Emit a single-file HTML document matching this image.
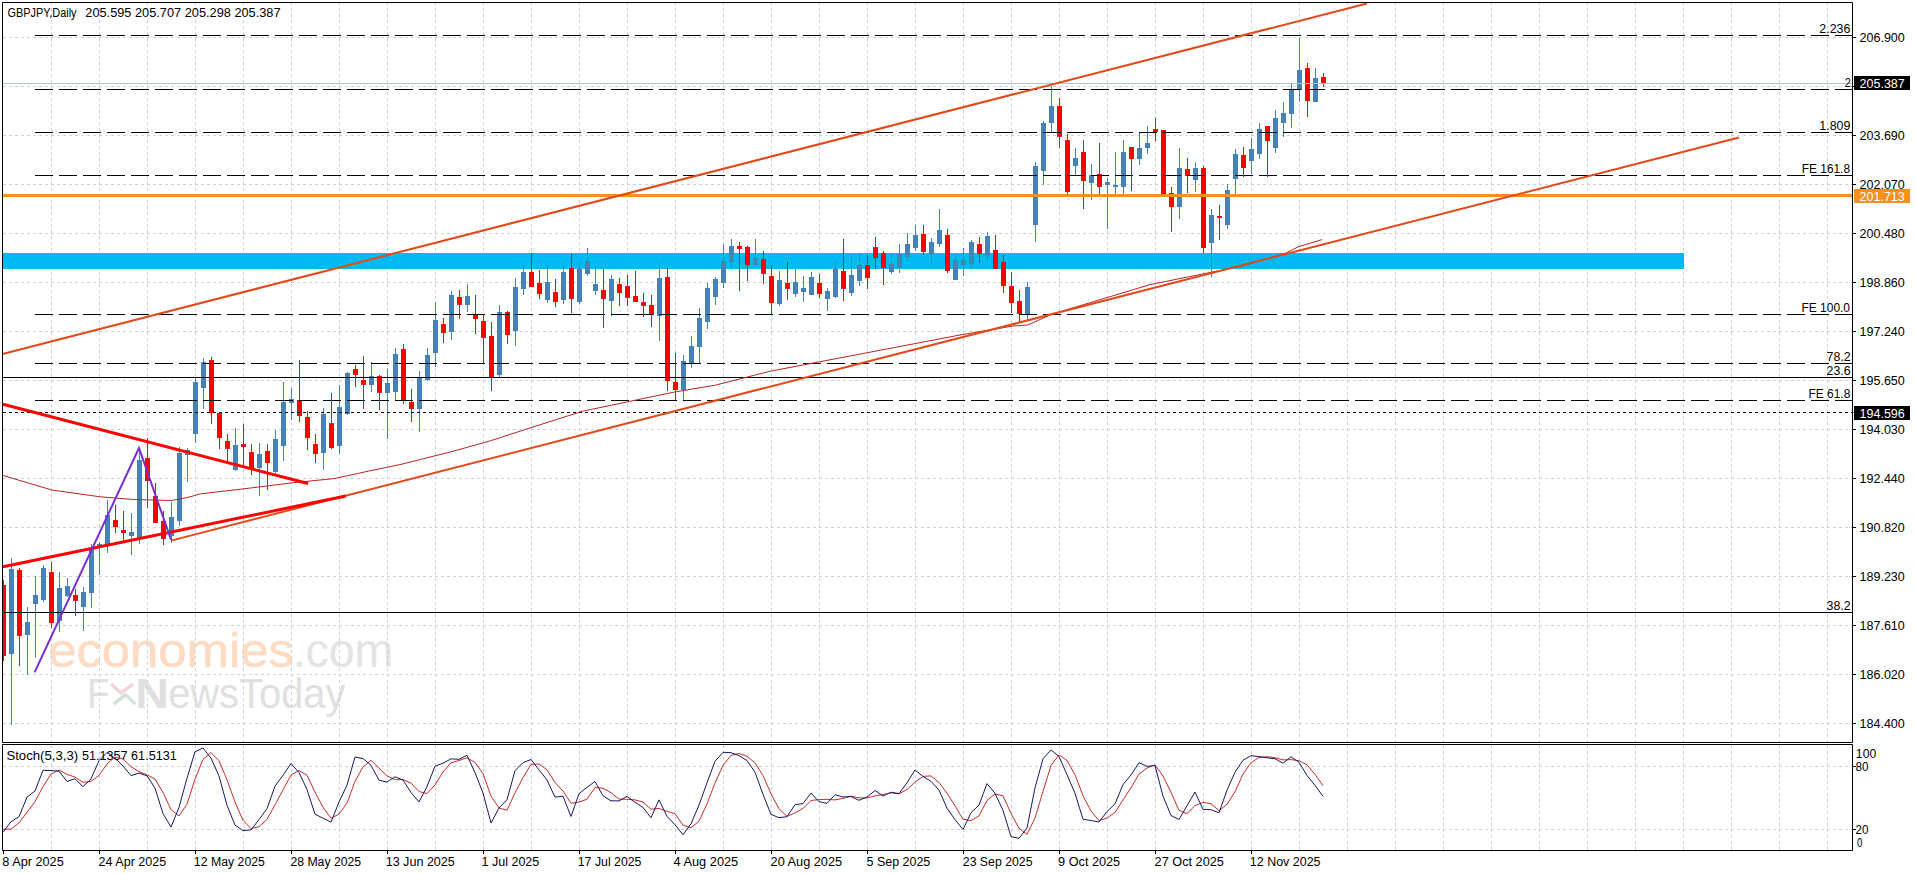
<!DOCTYPE html><html><head><meta charset="utf-8"><style>html,body{margin:0;padding:0;background:#fff;width:1916px;height:874px;overflow:hidden;position:relative}</style></head><body><svg width="1916" height="874" viewBox="0 0 1916 874" style="position:absolute;left:0;top:0">
<rect x="0" y="0" width="1916" height="874" fill="#fff"/>
<text x="48.18" y="667" font-family="Liberation Sans" font-size="48" font-weight="normal" fill="#fddcc3" textLength="245.71" lengthAdjust="spacingAndGlyphs" xml:space="preserve" stroke="#fddcc3" stroke-width="0.6">economies</text>
<text x="292.63" y="667" font-family="Liberation Sans" font-size="48" font-weight="normal" fill="#e4e4e4" textLength="100.69" lengthAdjust="spacingAndGlyphs" xml:space="preserve" >.com</text>
<text x="87.18" y="707.5" font-family="Liberation Sans" font-size="43" font-weight="normal" fill="#e0e0e0" textLength="22.10" lengthAdjust="spacingAndGlyphs" xml:space="preserve" >F</text>
<path d="M111 684 L121 693 L133 684" stroke="#f0d4d8" stroke-width="3.5" fill="none"/>
<path d="M113.6 704 L125.7 694.7 L135.4 704" stroke="#d2e4d8" stroke-width="3.5" fill="none"/>
<text x="135.15" y="707.5" font-family="Liberation Sans" font-size="43" font-weight="bold" fill="#e0e0e0" textLength="33.69" lengthAdjust="spacingAndGlyphs" xml:space="preserve" >N</text>
<text x="168.14" y="707.5" font-family="Liberation Sans" font-size="43" font-weight="normal" fill="#e0e0e0" textLength="177.36" lengthAdjust="spacingAndGlyphs" xml:space="preserve" >ewsToday</text>
<path d="M51.5 2V742 M51.5 745V850 M99.5 2V742 M99.5 745V850 M147.5 2V742 M147.5 745V850 M195.5 2V742 M195.5 745V850 M243.5 2V742 M243.5 745V850 M291.5 2V742 M291.5 745V850 M339.5 2V742 M339.5 745V850 M387.5 2V742 M387.5 745V850 M435.5 2V742 M435.5 745V850 M483.5 2V742 M483.5 745V850 M531.5 2V742 M531.5 745V850 M579.5 2V742 M579.5 745V850 M627.5 2V742 M627.5 745V850 M675.5 2V742 M675.5 745V850 M723.5 2V742 M723.5 745V850 M771.5 2V742 M771.5 745V850 M819.5 2V742 M819.5 745V850 M867.5 2V742 M867.5 745V850 M915.5 2V742 M915.5 745V850 M963.5 2V742 M963.5 745V850 M1011.5 2V742 M1011.5 745V850 M1059.5 2V742 M1059.5 745V850 M1107.5 2V742 M1107.5 745V850 M1155.5 2V742 M1155.5 745V850 M1203.5 2V742 M1203.5 745V850 M1251.5 2V742 M1251.5 745V850 M1299.5 2V742 M1299.5 745V850 M1347.5 2V742 M1347.5 745V850 M1395.5 2V742 M1395.5 745V850 M1443.5 2V742 M1443.5 745V850 M1491.5 2V742 M1491.5 745V850 M1539.5 2V742 M1539.5 745V850 M1587.5 2V742 M1587.5 745V850 M1635.5 2V742 M1635.5 745V850 M1683.5 2V742 M1683.5 745V850 M1731.5 2V742 M1731.5 745V850 M1779.5 2V742 M1779.5 745V850 M1827.5 2V742 M1827.5 745V850 M3 37.5H1852 M3 86.5H1852 M3 135.5H1852 M3 184.5H1852 M3 233.5H1852 M3 282.5H1852 M3 331.5H1852 M3 380.5H1852 M3 429.5H1852 M3 478.5H1852 M3 527.5H1852 M3 576.5H1852 M3 625.5H1852 M3 674.5H1852 M3 723.5H1852 M3 766.5H1852 M3 829.5H1852" stroke="#c9d3d8" stroke-width="1" stroke-dasharray="3 3" fill="none"/>
<rect x="3" y="253" width="1681" height="16" fill="#02baf3"/>
<path d="M11 558h1V725h-1Z M9 569h5V654h-5Z M27 607h1V675h-1Z M25 622h5V635h-5Z M35 576h1V658h-1Z M33 595h5V604h-5Z M43 565h1V602h-1Z M41 568h5V600h-5Z M59 572h1V632h-1Z M57 588h5V621h-5Z M67 578h1V597h-1Z M65 586h5V596h-5Z M83 587h1V631h-1Z M81 592h5V607h-5Z M91 544h1V608h-1Z M89 548h5V593h-5Z M99 542h1V575h-1Z M97 544h5V548h-5Z M107 500h1V553h-1Z M105 515h5V545h-5Z M131 513h1V555h-1Z M129 532h5V536h-5Z M139 448h1V544h-1Z M137 460h5V538h-5Z M171 502h1V543h-1Z M169 517h5V536h-5Z M179 447h1V526h-1Z M177 453h5V521h-5Z M187 448h1V482h-1Z M185 450h5V455h-5Z M195 377h1V443h-1Z M193 382h5V434h-5Z M203 358h1V409h-1Z M201 362h5V388h-5Z M235 428h1V471h-1Z M233 445h5V470h-5Z M259 443h1V496h-1Z M257 454h5V468h-5Z M275 430h1V473h-1Z M273 439h5V472h-5Z M283 382h1V461h-1Z M281 402h5V446h-5Z M291 388h1V420h-1Z M289 399h5V403h-5Z M323 408h1V470h-1Z M321 414h5V453h-5Z M339 385h1V454h-1Z M337 407h5V446h-5Z M347 372h1V415h-1Z M345 373h5V414h-5Z M371 362h1V392h-1Z M369 376h5V385h-5Z M387 369h1V439h-1Z M385 383h5V393h-5Z M395 348h1V401h-1Z M393 354h5V392h-5Z M419 371h1V432h-1Z M417 377h5V409h-5Z M427 348h1V381h-1Z M425 355h5V380h-5Z M435 302h1V367h-1Z M433 320h5V353h-5Z M451 291h1V340h-1Z M449 295h5V332h-5Z M467 284h1V312h-1Z M465 296h5V305h-5Z M499 305h1V378h-1Z M497 312h5V375h-5Z M515 278h1V346h-1Z M513 287h5V331h-5Z M523 265h1V295h-1Z M521 272h5V289h-5Z M547 265h1V303h-1Z M545 282h5V300h-5Z M563 265h1V304h-1Z M561 272h5V300h-5Z M579 262h1V304h-1Z M577 269h5V302h-5Z M587 248h1V276h-1Z M585 261h5V274h-5Z M595 266h1V295h-1Z M593 284h5V291h-5Z M611 275h1V316h-1Z M609 279h5V301h-5Z M659 263h1V341h-1Z M657 278h5V316h-5Z M683 355h1V401h-1Z M681 361h5V390h-5Z M691 336h1V368h-1Z M689 346h5V364h-5Z M699 308h1V364h-1Z M697 318h5V347h-5Z M707 283h1V329h-1Z M705 288h5V322h-5Z M715 277h1V305h-1Z M713 279h5V297h-5Z M723 244h1V288h-1Z M721 261h5V283h-5Z M731 239h1V269h-1Z M729 246h5V262h-5Z M755 239h1V265h-1Z M753 258h5V265h-5Z M779 271h1V306h-1Z M777 280h5V304h-5Z M795 269h1V297h-1Z M793 282h5V294h-5Z M803 276h1V302h-1Z M801 288h5V292h-5Z M811 272h1V295h-1Z M809 277h5V295h-5Z M827 288h1V311h-1Z M825 291h5V299h-5Z M835 262h1V298h-1Z M833 269h5V297h-5Z M851 256h1V296h-1Z M849 275h5V293h-5Z M859 254h1V286h-1Z M857 265h5V281h-5Z M891 254h1V274h-1Z M889 264h5V272h-5Z M899 244h1V273h-1Z M897 254h5V268h-5Z M907 233h1V261h-1Z M905 244h5V257h-5Z M915 225h1V251h-1Z M913 235h5V248h-5Z M931 238h1V265h-1Z M929 242h5V254h-5Z M939 209h1V247h-1Z M937 230h5V244h-5Z M955 255h1V280h-1Z M953 260h5V280h-5Z M963 248h1V276h-1Z M961 260h5V265h-5Z M971 240h1V268h-1Z M969 242h5V264h-5Z M987 232h1V261h-1Z M985 236h5V256h-5Z M1027 282h1V320h-1Z M1025 287h5V314h-5Z M1035 162h1V242h-1Z M1033 166h5V225h-5Z M1043 121h1V185h-1Z M1041 123h5V171h-5Z M1051 86h1V133h-1Z M1049 106h5V123h-5Z M1075 148h1V175h-1Z M1073 158h5V166h-5Z M1091 164h1V200h-1Z M1089 175h5V183h-5Z M1107 178h1V229h-1Z M1105 182h5V185h-5Z M1115 152h1V194h-1Z M1113 185h5V187h-5Z M1123 140h1V194h-1Z M1121 152h5V187h-5Z M1139 132h1V165h-1Z M1137 148h5V159h-5Z M1147 126h1V154h-1Z M1145 143h5V148h-5Z M1179 148h1V219h-1Z M1177 168h5V207h-5Z M1195 162h1V192h-1Z M1193 168h5V180h-5Z M1211 209h1V277h-1Z M1209 215h5V243h-5Z M1227 184h1V229h-1Z M1225 190h5V225h-5Z M1235 149h1V195h-1Z M1233 154h5V179h-5Z M1251 138h1V174h-1Z M1249 149h5V161h-5Z M1259 123h1V159h-1Z M1257 129h5V154h-5Z M1275 110h1V153h-1Z M1273 118h5V148h-5Z M1283 102h1V137h-1Z M1281 113h5V123h-5Z M1291 84h1V128h-1Z M1289 90h5V114h-5Z M1299 38h1V102h-1Z M1297 70h5V90h-5Z M1315 68h1V102h-1Z M1313 78h5V102h-5Z" fill="#4682b4" shape-rendering="crispEdges"/>
<path d="M3 580h1V661h-1Z M1 585h5V656h-5Z M19 568h1V666h-1Z M17 570h5V636h-5Z M51 562h1V628h-1Z M49 572h5V623h-5Z M75 589h1V616h-1Z M73 595h5V601h-5Z M115 505h1V533h-1Z M113 520h5V527h-5Z M123 511h1V543h-1Z M121 530h5V533h-5Z M147 438h1V508h-1Z M145 458h5V481h-5Z M155 483h1V523h-1Z M153 496h5V523h-5Z M163 511h1V545h-1Z M161 521h5V539h-5Z M211 357h1V424h-1Z M209 360h5V413h-5Z M219 412h1V449h-1Z M217 413h5V438h-5Z M227 434h1V462h-1Z M225 441h5V449h-5Z M243 424h1V465h-1Z M241 444h5V447h-5Z M251 444h1V475h-1Z M249 452h5V468h-5Z M267 444h1V490h-1Z M265 451h5V463h-5Z M299 360h1V422h-1Z M297 400h5V416h-5Z M307 411h1V450h-1Z M305 417h5V438h-5Z M315 434h1V463h-1Z M313 444h5V454h-5Z M331 393h1V449h-1Z M329 423h5V448h-5Z M355 365h1V387h-1Z M353 369h5V375h-5Z M363 356h1V409h-1Z M361 380h5V385h-5Z M379 375h1V410h-1Z M377 376h5V393h-5Z M403 344h1V404h-1Z M401 349h5V400h-5Z M411 389h1V422h-1Z M409 402h5V409h-5Z M443 318h1V343h-1Z M441 324h5V333h-5Z M459 290h1V319h-1Z M457 297h5V305h-5Z M475 295h1V334h-1Z M473 314h5V319h-5Z M483 315h1V363h-1Z M481 321h5V338h-5Z M491 322h1V391h-1Z M489 336h5V377h-5Z M507 311h1V344h-1Z M505 312h5V335h-5Z M531 253h1V287h-1Z M529 272h5V287h-5Z M539 270h1V299h-1Z M537 283h5V294h-5Z M555 279h1V307h-1Z M553 292h5V302h-5Z M571 254h1V313h-1Z M569 268h5V299h-5Z M603 269h1V328h-1Z M601 290h5V299h-5Z M619 278h1V306h-1Z M617 284h5V293h-5Z M627 275h1V306h-1Z M625 286h5V298h-5Z M635 271h1V302h-1Z M633 296h5V302h-5Z M643 293h1V317h-1Z M641 302h5V306h-5Z M651 295h1V327h-1Z M649 305h5V315h-5Z M667 268h1V391h-1Z M665 277h5V381h-5Z M675 353h1V401h-1Z M673 382h5V390h-5Z M739 242h1V291h-1Z M737 246h5V249h-5Z M747 246h1V281h-1Z M745 247h5V265h-5Z M763 251h1V284h-1Z M761 259h5V274h-5Z M771 265h1V315h-1Z M769 276h5V303h-5Z M787 262h1V300h-1Z M785 283h5V289h-5Z M819 274h1V298h-1Z M817 283h5V294h-5Z M843 239h1V301h-1Z M841 271h5V289h-5Z M867 255h1V289h-1Z M865 265h5V278h-5Z M875 237h1V269h-1Z M873 247h5V258h-5Z M883 251h1V285h-1Z M881 253h5V268h-5Z M923 225h1V255h-1Z M921 234h5V252h-5Z M947 229h1V273h-1Z M945 235h5V271h-5Z M979 237h1V263h-1Z M977 244h5V254h-5Z M995 235h1V269h-1Z M993 250h5V269h-5Z M1003 255h1V293h-1Z M1001 262h5V286h-5Z M1011 272h1V313h-1Z M1009 286h5V303h-5Z M1019 290h1V323h-1Z M1017 301h5V314h-5Z M1059 98h1V148h-1Z M1057 106h5V137h-5Z M1067 134h1V194h-1Z M1065 140h5V192h-5Z M1083 140h1V209h-1Z M1081 152h5V181h-5Z M1099 143h1V194h-1Z M1097 174h5V187h-5Z M1131 147h1V191h-1Z M1129 147h5V159h-5Z M1155 118h1V141h-1Z M1153 129h5V132h-5Z M1163 130h1V195h-1Z M1161 130h5V194h-5Z M1171 187h1V232h-1Z M1169 193h5V207h-5Z M1187 158h1V193h-1Z M1185 169h5V176h-5Z M1203 166h1V253h-1Z M1201 168h5V248h-5Z M1219 205h1V240h-1Z M1217 216h5V218h-5Z M1243 147h1V177h-1Z M1241 155h5V168h-5Z M1267 126h1V177h-1Z M1265 126h5V141h-5Z M1307 63h1V117h-1Z M1305 68h5V101h-5Z M1323 73h1V87h-1Z M1321 77h5V84h-5Z" fill="#ff0000" shape-rendering="crispEdges"/>
<path d="M35 35.5H1852 M35 89.5H1852 M35 132.5H1852 M35 175.5H1852 M35 314.5H1852 M35 363.5H1852 M35 400.5H1852" stroke="#000" stroke-width="1" stroke-dasharray="18 6" fill="none"/>
<path d="M3 377.5H1852 M3 612.5H1852" stroke="#000" stroke-width="1" fill="none"/>
<path d="M3 412.5H1852" stroke="#000" stroke-width="1" stroke-dasharray="3 3" fill="none"/>
<path d="M3 83.5H1852" stroke="#a8c8d8" stroke-width="1" fill="none"/>
<rect x="3" y="194" width="1849" height="3" fill="#f7901c"/>
<polyline points="3.1,475.5 52.2,490.1 100.2,496.8 133.6,499.5 171.2,500.5 187.9,497.4 200.4,493.9 250.5,488 292.3,482.8 334,478.6 368.7,471.1 400,464.6 453,451.25 490.4,440.8 532,427.3 582.5,411.25 672,392.5 716,385 770,371.25 960,335 1013,326 1027.7,325 1052,314.2 1150,284.6 1202.5,274 1244,265.6 1286,253 1298,246.9 1322,239.6" stroke="#b82424" stroke-width="1" fill="none"/>
<path d="M2.5 354 L1367 3.5 M171 540.6 L1739 137.5" stroke="#e4491a" stroke-width="2" fill="none"/>
<path d="M3 404.3 L308 483.5 M3 566.7 L346 496" stroke="#ff0000" stroke-width="3" fill="none"/>
<polyline points="34.6,672.3 139,448 171,539.6" stroke="#7a2ed6" stroke-width="2" fill="none"/>
<rect x="0" y="0" width="2" height="874" fill="#fff"/>
<rect x="1853" y="0" width="63" height="874" fill="#fff"/>
<rect x="0" y="0" width="1916" height="2" fill="#fff"/>
<rect x="0" y="743" width="1916" height="1" fill="#fff"/>
<path d="M2.5 2.5H1852.5V742.5H2.5Z M2.5 744.5H1852.5V850.5H2.5Z" stroke="#000" stroke-width="1" fill="none"/>
<path d="M1853 37.5h3 M1853 86.5h3 M1853 135.5h3 M1853 184.5h3 M1853 233.5h3 M1853 282.5h3 M1853 331.5h3 M1853 380.5h3 M1853 429.5h3 M1853 478.5h3 M1853 527.5h3 M1853 576.5h3 M1853 625.5h3 M1853 674.5h3 M1853 723.5h3 M1853 766.5h3 M1853 829.5h3 M3.5 851v3 M99.5 851v3 M195.5 851v3 M291.5 851v3 M387.5 851v3 M483.5 851v3 M579.5 851v3 M675.5 851v3 M771.5 851v3 M867.5 851v3 M963.5 851v3 M1059.5 851v3 M1155.5 851v3 M1251.5 851v3" stroke="#000" stroke-width="1" fill="none"/>
<text x="1859.50" y="42" font-family="Liberation Sans" font-size="12" font-weight="normal" fill="#000" textLength="45.31" lengthAdjust="spacingAndGlyphs" xml:space="preserve" >206.900</text>
<text x="1859.50" y="140" font-family="Liberation Sans" font-size="12" font-weight="normal" fill="#000" textLength="45.31" lengthAdjust="spacingAndGlyphs" xml:space="preserve" >203.690</text>
<text x="1859.50" y="189" font-family="Liberation Sans" font-size="12" font-weight="normal" fill="#000" textLength="45.31" lengthAdjust="spacingAndGlyphs" xml:space="preserve" >202.070</text>
<text x="1859.50" y="238" font-family="Liberation Sans" font-size="12" font-weight="normal" fill="#000" textLength="45.31" lengthAdjust="spacingAndGlyphs" xml:space="preserve" >200.480</text>
<text x="1859.50" y="287" font-family="Liberation Sans" font-size="12" font-weight="normal" fill="#000" textLength="45.31" lengthAdjust="spacingAndGlyphs" xml:space="preserve" >198.860</text>
<text x="1859.50" y="336" font-family="Liberation Sans" font-size="12" font-weight="normal" fill="#000" textLength="45.31" lengthAdjust="spacingAndGlyphs" xml:space="preserve" >197.240</text>
<text x="1859.50" y="385" font-family="Liberation Sans" font-size="12" font-weight="normal" fill="#000" textLength="45.31" lengthAdjust="spacingAndGlyphs" xml:space="preserve" >195.650</text>
<text x="1859.50" y="434" font-family="Liberation Sans" font-size="12" font-weight="normal" fill="#000" textLength="45.31" lengthAdjust="spacingAndGlyphs" xml:space="preserve" >194.030</text>
<text x="1859.50" y="483" font-family="Liberation Sans" font-size="12" font-weight="normal" fill="#000" textLength="45.31" lengthAdjust="spacingAndGlyphs" xml:space="preserve" >192.440</text>
<text x="1859.50" y="532" font-family="Liberation Sans" font-size="12" font-weight="normal" fill="#000" textLength="45.31" lengthAdjust="spacingAndGlyphs" xml:space="preserve" >190.820</text>
<text x="1859.50" y="581" font-family="Liberation Sans" font-size="12" font-weight="normal" fill="#000" textLength="45.31" lengthAdjust="spacingAndGlyphs" xml:space="preserve" >189.230</text>
<text x="1859.50" y="630" font-family="Liberation Sans" font-size="12" font-weight="normal" fill="#000" textLength="45.31" lengthAdjust="spacingAndGlyphs" xml:space="preserve" >187.610</text>
<text x="1859.50" y="679" font-family="Liberation Sans" font-size="12" font-weight="normal" fill="#000" textLength="45.31" lengthAdjust="spacingAndGlyphs" xml:space="preserve" >186.020</text>
<text x="1859.50" y="728" font-family="Liberation Sans" font-size="12" font-weight="normal" fill="#000" textLength="45.31" lengthAdjust="spacingAndGlyphs" xml:space="preserve" >184.400</text>
<rect x="1854" y="76" width="56" height="14" fill="#000"/>
<text x="1859.50" y="88" font-family="Liberation Sans" font-size="12" font-weight="normal" fill="#fff" textLength="45.31" lengthAdjust="spacingAndGlyphs" xml:space="preserve" >205.387</text>
<rect x="1854" y="189" width="56" height="14" fill="#f7901c"/>
<text x="1859.50" y="201" font-family="Liberation Sans" font-size="12" font-weight="normal" fill="#fff" textLength="45.31" lengthAdjust="spacingAndGlyphs" xml:space="preserve" >201.713</text>
<rect x="1854" y="406" width="56" height="14" fill="#000"/>
<text x="1859.50" y="418" font-family="Liberation Sans" font-size="12" font-weight="normal" fill="#fff" textLength="45.31" lengthAdjust="spacingAndGlyphs" xml:space="preserve" >194.596</text>
<text x="1855.88" y="758" font-family="Liberation Sans" font-size="12" font-weight="normal" fill="#000" textLength="20.35" lengthAdjust="spacingAndGlyphs" xml:space="preserve" >100</text>
<text x="1855.60" y="771" font-family="Liberation Sans" font-size="12" font-weight="normal" fill="#000" textLength="12.95" lengthAdjust="spacingAndGlyphs" xml:space="preserve" >80</text>
<text x="1855.60" y="834" font-family="Liberation Sans" font-size="12" font-weight="normal" fill="#000" textLength="12.95" lengthAdjust="spacingAndGlyphs" xml:space="preserve" >20</text>
<text x="1856.90" y="847" font-family="Liberation Sans" font-size="12" font-weight="normal" fill="#000" textLength="5.35" lengthAdjust="spacingAndGlyphs" xml:space="preserve" >0</text>
<text x="1819.30" y="33" font-family="Liberation Sans" font-size="12" font-weight="normal" fill="#000" textLength="31.03" lengthAdjust="spacingAndGlyphs" xml:space="preserve" >2.236</text>
<text x="1844.80" y="87" font-family="Liberation Sans" font-size="12" font-weight="normal" fill="#000" textLength="6.13" lengthAdjust="spacingAndGlyphs" xml:space="preserve" >2</text>
<text x="1819.30" y="130" font-family="Liberation Sans" font-size="12" font-weight="normal" fill="#000" textLength="31.03" lengthAdjust="spacingAndGlyphs" xml:space="preserve" >1.809</text>
<text x="1801.81" y="173" font-family="Liberation Sans" font-size="12" font-weight="normal" fill="#000" textLength="48.20" lengthAdjust="spacingAndGlyphs" xml:space="preserve" >FE 161.8</text>
<text x="1801.50" y="312" font-family="Liberation Sans" font-size="12" font-weight="normal" fill="#000" textLength="48.50" lengthAdjust="spacingAndGlyphs" xml:space="preserve" >FE 100.0</text>
<text x="1826.60" y="361" font-family="Liberation Sans" font-size="12" font-weight="normal" fill="#000" textLength="24.07" lengthAdjust="spacingAndGlyphs" xml:space="preserve" >78.2</text>
<text x="1826.60" y="375" font-family="Liberation Sans" font-size="12" font-weight="normal" fill="#000" textLength="24.07" lengthAdjust="spacingAndGlyphs" xml:space="preserve" >23.6</text>
<text x="1808.50" y="398" font-family="Liberation Sans" font-size="12" font-weight="normal" fill="#000" textLength="41.83" lengthAdjust="spacingAndGlyphs" xml:space="preserve" >FE 61.8</text>
<text x="1826.60" y="610" font-family="Liberation Sans" font-size="12" font-weight="normal" fill="#000" textLength="24.07" lengthAdjust="spacingAndGlyphs" xml:space="preserve" >38.2</text>
<text x="7.50" y="17" font-family="Liberation Sans" font-size="12" font-weight="normal" fill="#000" textLength="69.03" lengthAdjust="spacingAndGlyphs" xml:space="preserve" >GBPJPY,Daily</text>
<text x="85.30" y="17" font-family="Liberation Sans" font-size="12" font-weight="normal" fill="#000" textLength="195.25" lengthAdjust="spacingAndGlyphs" xml:space="preserve" >205.595 205.707 205.298 205.387</text>
<text x="6.40" y="760" font-family="Liberation Sans" font-size="12" font-weight="normal" fill="#000" textLength="71.71" lengthAdjust="spacingAndGlyphs" xml:space="preserve" >Stoch(5,3,3)</text>
<text x="82.00" y="760" font-family="Liberation Sans" font-size="12" font-weight="normal" fill="#000" textLength="94.70" lengthAdjust="spacingAndGlyphs" xml:space="preserve" >51.1357 61.5131</text>
<text x="2.30" y="866" font-family="Liberation Sans" font-size="12" font-weight="normal" fill="#000" textLength="61.47" lengthAdjust="spacingAndGlyphs" xml:space="preserve" >8 Apr 2025</text>
<text x="98.60" y="866" font-family="Liberation Sans" font-size="12" font-weight="normal" fill="#000" textLength="67.62" lengthAdjust="spacingAndGlyphs" xml:space="preserve" >24 Apr 2025</text>
<text x="193.88" y="866" font-family="Liberation Sans" font-size="12" font-weight="normal" fill="#000" textLength="71.02" lengthAdjust="spacingAndGlyphs" xml:space="preserve" >12 May 2025</text>
<text x="290.40" y="866" font-family="Liberation Sans" font-size="12" font-weight="normal" fill="#000" textLength="70.80" lengthAdjust="spacingAndGlyphs" xml:space="preserve" >28 May 2025</text>
<text x="385.65" y="866" font-family="Liberation Sans" font-size="12" font-weight="normal" fill="#000" textLength="69.21" lengthAdjust="spacingAndGlyphs" xml:space="preserve" >13 Jun 2025</text>
<text x="481.46" y="866" font-family="Liberation Sans" font-size="12" font-weight="normal" fill="#000" textLength="57.85" lengthAdjust="spacingAndGlyphs" xml:space="preserve" >1 Jul 2025</text>
<text x="577.77" y="866" font-family="Liberation Sans" font-size="12" font-weight="normal" fill="#000" textLength="63.69" lengthAdjust="spacingAndGlyphs" xml:space="preserve" >17 Jul 2025</text>
<text x="673.50" y="866" font-family="Liberation Sans" font-size="12" font-weight="normal" fill="#000" textLength="64.72" lengthAdjust="spacingAndGlyphs" xml:space="preserve" >4 Aug 2025</text>
<text x="770.60" y="866" font-family="Liberation Sans" font-size="12" font-weight="normal" fill="#000" textLength="71.53" lengthAdjust="spacingAndGlyphs" xml:space="preserve" >20 Aug 2025</text>
<text x="866.50" y="866" font-family="Liberation Sans" font-size="12" font-weight="normal" fill="#000" textLength="63.81" lengthAdjust="spacingAndGlyphs" xml:space="preserve" >5 Sep 2025</text>
<text x="962.80" y="866" font-family="Liberation Sans" font-size="12" font-weight="normal" fill="#000" textLength="69.66" lengthAdjust="spacingAndGlyphs" xml:space="preserve" >23 Sep 2025</text>
<text x="1058.10" y="866" font-family="Liberation Sans" font-size="12" font-weight="normal" fill="#000" textLength="62.10" lengthAdjust="spacingAndGlyphs" xml:space="preserve" >9 Oct 2025</text>
<text x="1154.60" y="866" font-family="Liberation Sans" font-size="12" font-weight="normal" fill="#000" textLength="69.31" lengthAdjust="spacingAndGlyphs" xml:space="preserve" >27 Oct 2025</text>
<text x="1249.86" y="866" font-family="Liberation Sans" font-size="12" font-weight="normal" fill="#000" textLength="70.70" lengthAdjust="spacingAndGlyphs" xml:space="preserve" >12 Nov 2025</text>
<polyline points="3,829.2 11,829.2 19,822.9 27,812.3 35,801.6 43,786.6 51,774.0 59,770.1 67,774.4 75,777.1 83,782.3 91,781.4 99,775.4 107,764.0 115,757.1 123,758.9 131,766.7 139,771.6 147,774.8 155,779.0 163,792.5 171,809.6 179,816.0 187,804.2 195,779.1 203,759.3 211,752.6 219,760.7 227,779.8 235,802.1 243,820.3 251,828.6 259,826.7 267,819.4 275,804.8 283,790.0 291,775.0 299,770.5 307,775.2 315,792.1 323,807.3 331,818.2 339,814.1 347,803.1 355,781.4 363,766.9 371,760.3 379,768.1 387,775.9 395,779.7 403,779.6 411,783.1 419,791.5 427,793.6 435,784.9 443,772.0 451,762.8 459,760.5 467,757.8 475,762.4 483,773.6 491,796.2 499,808.0 507,810.2 515,792.8 523,777.7 531,764.3 539,764.0 547,769.8 555,782.4 563,791.1 571,803.3 579,802.1 587,799.2 595,787.5 603,788.2 611,792.7 619,799.1 627,799.3 635,799.9 643,802.0 651,809.2 659,808.4 667,811.3 675,813.7 683,825.2 691,827.7 699,821.2 707,803.9 715,783.1 723,765.5 731,755.4 739,753.5 747,756.3 755,762.8 763,775.7 771,793.7 779,808.8 787,816.3 795,813.0 803,808.4 811,800.5 819,799.5 827,799.4 835,799.9 843,798.4 851,796.1 859,797.9 867,797.9 875,795.9 883,794.5 891,792.9 899,793.9 907,789.5 915,782.1 923,776.4 931,775.9 939,782.6 947,793.2 955,805.9 963,819.1 971,820.6 979,815.8 987,800.5 995,794.0 1003,795.8 1011,813.4 1019,828.4 1027,834.3 1035,818.0 1043,791.5 1051,765.5 1059,755.0 1067,760.4 1075,774.8 1083,795.7 1091,811.0 1099,820.6 1107,818.0 1115,812.5 1123,800.0 1131,787.8 1139,774.1 1147,768.0 1155,764.9 1163,776.0 1171,792.4 1179,810.4 1187,813.6 1195,805.7 1203,802.4 1211,803.7 1219,810.7 1227,804.3 1235,791.7 1243,774.2 1251,762.7 1259,757.5 1267,756.7 1275,757.7 1283,759.9 1291,759.6 1299,760.7 1307,764.8 1315,774.3 1323,785.8" stroke="#cc2c2c" stroke-width="1" fill="none"/>
<polyline points="3,832.3 11,821.7 19,816.7 27,797.2 35,791.0 43,770.3 51,770.6 59,771.1 67,781.5 75,778.7 83,786.7 91,778.9 99,760.7 107,752.4 115,758.2 123,766.1 131,775.6 139,773.1 147,775.8 155,788.2 163,813.5 171,827.1 179,807.4 187,778.2 195,751.7 203,748.0 211,758.2 219,775.9 227,805.2 235,825.1 243,830.6 251,829.9 259,819.6 267,808.6 275,786.2 283,775.3 291,763.6 299,772.5 307,789.5 315,814.2 323,818.2 331,822.1 339,802.0 347,785.1 355,757.0 363,758.6 371,765.3 379,780.3 387,782.0 395,776.8 403,780.0 411,792.5 419,801.9 427,786.5 435,766.2 443,763.2 451,758.9 459,759.3 467,755.3 475,772.6 483,793.0 491,823.0 499,808.0 507,799.7 515,770.7 523,762.6 531,759.5 539,769.9 547,780.0 555,797.1 563,796.2 571,816.5 579,793.7 587,787.3 595,781.5 603,795.8 611,800.8 619,800.9 627,796.4 635,802.3 643,807.4 651,817.8 659,799.9 667,816.3 675,824.8 683,834.7 691,823.8 699,805.1 707,782.8 715,761.3 723,752.3 731,752.7 739,755.6 747,760.6 755,772.2 763,794.3 771,814.4 779,817.7 787,816.7 795,804.7 803,803.6 811,793.1 819,801.7 827,803.4 835,794.7 843,797.0 851,796.6 859,800.3 867,797.0 875,790.5 883,796.1 891,792.2 899,793.6 907,782.8 915,770.0 923,776.5 931,781.3 939,790.1 947,808.1 955,819.6 963,829.5 971,812.8 979,805.0 987,783.6 995,793.3 1003,810.4 1011,836.6 1019,838.3 1027,828.0 1035,787.8 1043,758.8 1051,749.9 1059,756.5 1067,774.7 1075,793.3 1083,819.3 1091,820.5 1099,822.0 1107,811.6 1115,803.8 1123,784.7 1131,774.9 1139,762.7 1147,766.3 1155,765.6 1163,796.1 1171,815.5 1179,819.5 1187,805.7 1195,792.0 1203,809.4 1211,809.7 1219,812.8 1227,790.2 1235,772.2 1243,760.3 1251,755.7 1259,756.6 1267,757.8 1275,758.7 1283,763.2 1291,756.8 1299,762.2 1307,775.5 1315,785.3 1323,796.4" stroke="#181868" stroke-width="1" fill="none"/>
</svg></body></html>
